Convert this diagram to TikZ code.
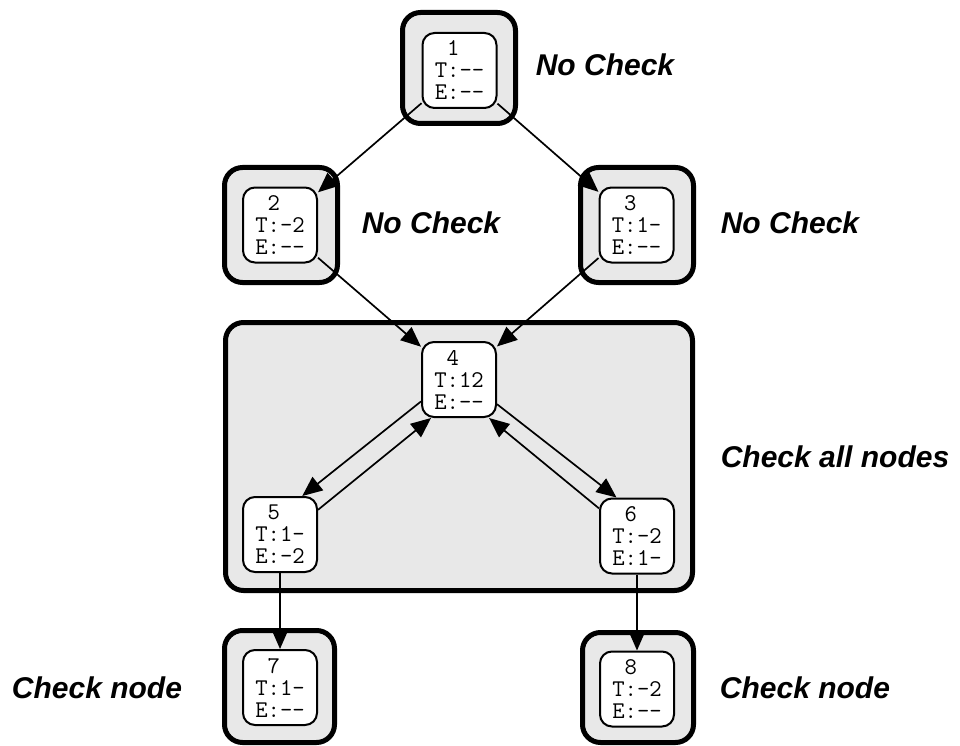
\documentclass[tikz,border=0pt]{standalone}
\usepackage{fontspec}
\setmainfont{Liberation Sans}
\usetikzlibrary{arrows.meta}
\definecolor{boxgray}{HTML}{E8E8E8}
\tikzset{
  state/.style={draw, line width=2pt, rounded corners=12pt, fill=white,
    minimum width=74pt, minimum height=75pt, inner sep=0pt, align=left,
    font=\ttfamily\fontsize{24}{22}\selectfont},
  group/.style={draw, line width=5pt, rounded corners=18pt, fill=boxgray, inner sep=0pt},
  edge/.style={line width=1.7pt, -{Triangle[length=20pt,width=17pt]}},
  note/.style={font=\fontsize{30}{36}\selectfont\bfseries\itshape, inner sep=0pt}
}
\begin{document}
\begin{tikzpicture}[x=1pt,y=-1pt]
  \useasboundingbox (0,0) rectangle (960,746);

  % grouping boxes
  \node[group, minimum width=113pt, minimum height=111pt] (g1) at (459,68) {};
  \node[group, minimum width=113pt, minimum height=115pt] (g2) at (281,225) {};
  \node[group, minimum width=113pt, minimum height=115pt] (g3) at (637,225) {};
  \node[group, minimum width=467pt, minimum height=268pt] (g4) at (459,456.5) {};
  \node[group, minimum width=110pt, minimum height=112pt] (g7) at (279.5,686.5) {};
  \node[group, minimum width=111pt, minimum height=110pt] (g8) at (638,687.5) {};

  % states
  \node[state] (n1) at (459.5,70.5) {\hphantom{0}1\\T:-{}-\\E:-{}-};
  \node[state] (n2) at (280,225) {\hphantom{0}2\\T:-2\\E:-{}-};
  \node[state] (n3) at (636.5,225) {\hphantom{0}3\\T:1-\\E:-{}-};
  \node[state] (n4) at (459,379.5) {\hphantom{0}4\\T:12\\E:-{}-};
  \node[state] (n5) at (280,534.5) {\hphantom{0}5\\T:1-\\E:-2};
  \node[state] (n6) at (637,536) {\hphantom{0}6\\T:-2\\E:1-};
  \node[state] (n7) at (280,687.5) {\hphantom{0}7\\T:1-\\E:-{}-};
  \node[state] (n8) at (637,689) {\hphantom{0}8\\T:-2\\E:-{}-};

  % transitions
  \draw[edge] (n1) -- (n2);
  \draw[edge] (n1) -- (n3);
  \draw[edge] (n2) -- (n4);
  \draw[edge] (n3) -- (n4);
  \draw[edge] (n4.210) -- (n5.60);
  \draw[edge] (n5.33) -- (n4.234);
  \draw[edge] (n4.327) -- (n6.118);
  \draw[edge] (n6.144) -- (n4.308);
  \draw[edge] (n5) -- (n7);
  \draw[edge] (n6) -- (n8);

  % annotations
  \node[note] (l1) at (605,65) {No Check};
  \node[note] (l2) at (431,223) {No Check};
  \node[note] (l3) at (790,223) {No Check};
  \node[note] (l4) at (835,457) {Check all nodes};
  \node[note] (l7) at (97,688) {Check node};
  \node[note] (l8) at (805,688) {Check node};
\end{tikzpicture}
\end{document}
